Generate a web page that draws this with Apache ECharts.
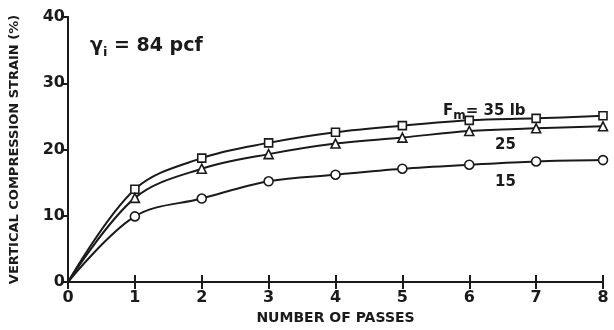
<!DOCTYPE html>
<html>
<head>
<meta charset="utf-8">
<script src="https://cdn.jsdelivr.net/npm/echarts@6/dist/echarts.min.js"></script>
<style>
  html, body { margin: 0; padding: 0; background: #fff; }
  #chart { width: 614px; height: 330px; }
</style>
</head>
<body>
<div id="chart"></div>
<script>
// number of passes
const passes = [0, 1, 2, 3, 4, 5, 6, 7, 8];
// vertical compression strain (%) for each Fm
const strain35 = [0, 14.0, 18.7, 21.0, 22.6, 23.6, 24.4, 24.7, 25.1];
const strain25 = [0, 12.7, 17.1, 19.3, 20.9, 21.8, 22.8, 23.2, 23.5];
const strain15 = [0, 9.9, 12.6, 15.2, 16.2, 17.1, 17.7, 18.2, 18.4];

const FONT = '"DejaVu Sans", sans-serif';
const INK = '#1a1a1a';

function pts(ys) {
  return passes.map(function (x, i) {
    if (i === 0) return { value: [x, ys[i]], symbol: 'none' };
    return [x, ys[i]];
  });
}

function curve(name, ys, symbol, size) {
  return {
    name: name,
    type: 'line',
    data: pts(ys),
    smooth: 0.35,
    symbol: symbol,
    symbolSize: size,
    showAllSymbol: true,
    lineStyle: { color: INK, width: 2, type: 'solid' },
    itemStyle: { color: '#fff', borderColor: INK, borderWidth: 1.6 },
    z: 3
  };
}

const chart = echarts.init(document.getElementById('chart'));

chart.setOption({
  backgroundColor: '#fff',
  animation: false,
  grid: { left: 66, right: 11, top: 17, bottom: 38 },
  xAxis: [{
    type: 'value', min: 0, max: 8, interval: 1,
    name: 'NUMBER OF PASSES', nameLocation: 'middle', nameGap: 29,
    nameTextStyle: { fontFamily: FONT, fontSize: 14, fontWeight: 'bold', color: INK },
    axisLine: { lineStyle: { color: INK, width: 2 } },
    axisTick: { inside: true, length: 7, lineStyle: { color: INK, width: 2 } },
    axisLabel: { fontFamily: FONT, fontSize: 16, fontWeight: 'bold', color: INK, margin: 8 },
    splitLine: { show: false }
  }, {
    type: 'value', min: 0, max: 8, interval: 1, position: 'top',
    axisLine: { show: true, lineStyle: { color: INK, width: 2 } },
    axisTick: { inside: true, length: 7, lineStyle: { color: INK, width: 2 } },
    axisLabel: { show: false },
    splitLine: { show: false }
  }],
  yAxis: [{
    type: 'value', min: 0, max: 40, interval: 10,
    name: 'VERTICAL COMPRESSION STRAIN (%)', nameLocation: 'middle', nameGap: 47,
    nameTextStyle: { fontFamily: FONT, fontSize: 13, fontWeight: 'bold', color: INK },
    axisLine: { show: true, lineStyle: { color: INK, width: 2 } },
    axisTick: { show: true, inside: false, length: 5, lineStyle: { color: INK, width: 2 } },
    axisLabel: { fontFamily: FONT, fontSize: 16, fontWeight: 'bold', color: INK, margin: 3 },
    splitLine: { show: false }
  }, {
    type: 'value', min: 0, max: 40, interval: 10, position: 'right',
    axisLine: { show: true, lineStyle: { color: INK, width: 2 } },
    axisTick: { show: true, inside: true, length: 7, lineStyle: { color: INK, width: 2 } },
    axisLabel: { show: false },
    splitLine: { show: false }
  }],
  series: [
    curve('35 lb', strain35, 'rect', 8),
    curve('25 lb', strain25, 'triangle', 9),
    curve('15 lb', strain15, 'circle', 9)
  ],
  graphic: [{
    type: 'text', left: 90, top: 37,
    style: {
      text: '{g|γ}{s|i}{g| = 84 pcf}',
      rich: {
        g: { fontFamily: FONT, fontSize: 19, fontWeight: 'bold', fill: INK },
        s: { fontFamily: FONT, fontSize: 13, fontWeight: 'bold', fill: INK, padding: [12, 0, 0, 0] }
      }
    }
  }, {
    type: 'text', left: 443, top: 104,
    style: {
      text: '{g|F}{s|m}{g|= 35 lb}',
      rich: {
        g: { fontFamily: FONT, fontSize: 15, fontWeight: 'bold', fill: INK },
        s: { fontFamily: FONT, fontSize: 12, fontWeight: 'bold', fill: INK, padding: [9, 0, 0, 0] }
      }
    }
  }, {
    type: 'text', left: 495, top: 138,
    style: { text: '25', fontFamily: FONT, fontSize: 15, fontWeight: 'bold', fill: INK }
  }, {
    type: 'text', left: 495, top: 175,
    style: { text: '15', fontFamily: FONT, fontSize: 15, fontWeight: 'bold', fill: INK }
  }]
});
</script>
</body>
</html>
